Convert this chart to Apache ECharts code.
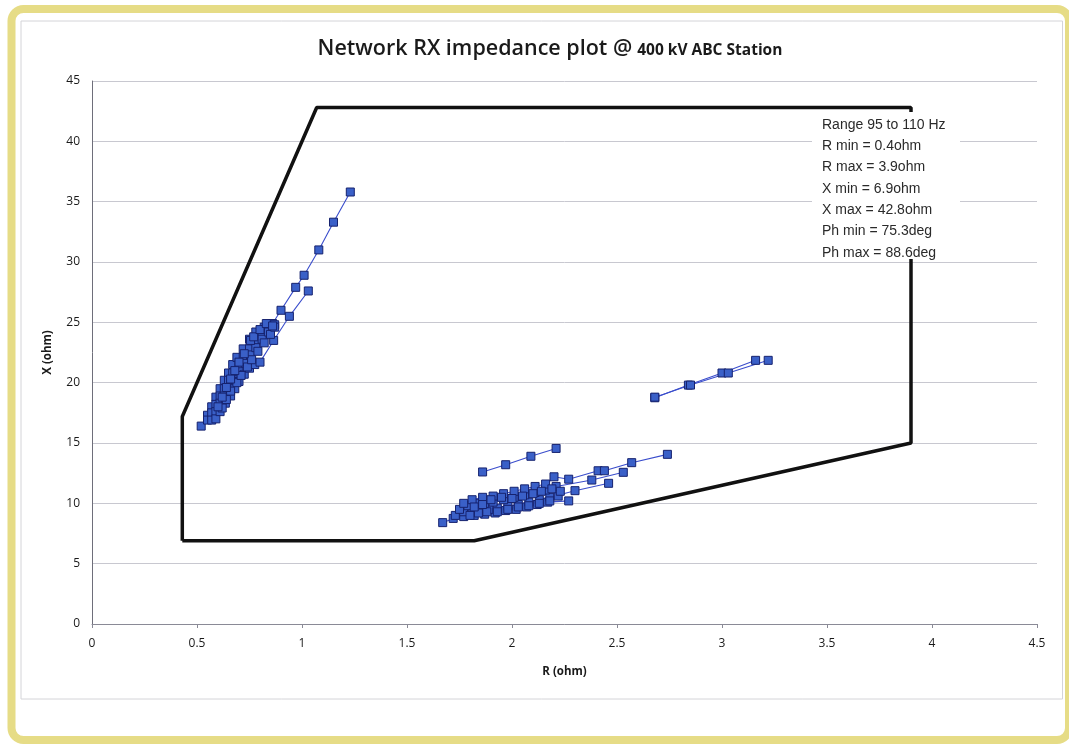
<!DOCTYPE html>
<html>
<head>
<meta charset="utf-8">
<script src="https://cdn.jsdelivr.net/npm/echarts@6/dist/echarts.min.js"></script>
<style>
  html, body { margin: 0; padding: 0; background: #ffffff; }
  #chart { width: 1069px; height: 745px; }
</style>
</head>
<body>
<div id="chart"></div>
<script>
// Impedance locus traces (R in ohm, X in ohm), one array per network case
const traceA = [[0.52,16.4],[0.55,17.3],[0.57,18.0],[0.59,18.8],[0.61,19.5],[0.63,20.2],[0.65,20.8],[0.67,21.5],[0.69,22.1],[0.72,22.8],[0.75,23.6],[0.78,24.2],[0.82,24.6],[0.86,24.9],[0.90,26.0],[0.97,27.9],[1.01,28.9],[1.08,31.0],[1.15,33.3],[1.23,35.8]];
const traceB = [[0.55,16.9],[0.57,17.5],[0.59,18.2],[0.61,18.9],[0.63,19.5],[0.65,20.2],[0.67,20.8],[0.70,21.5],[0.72,22.1],[0.75,22.8],[0.78,23.5],[0.81,24.1],[0.84,24.6]];
const traceC = [[0.57,16.9],[0.59,17.6],[0.61,18.3],[0.63,18.9],[0.655,19.6],[0.68,20.3],[0.70,20.9],[0.73,21.6],[0.755,22.3],[0.78,22.9],[0.81,23.6],[0.84,24.2],[0.87,24.8]];
const traceD = [[0.59,17.0],[0.61,17.6],[0.635,18.3],[0.66,18.9],[0.68,19.5],[0.70,20.1],[0.725,20.7],[0.75,21.2],[0.775,21.5],[0.80,21.7],[0.865,23.5],[0.94,25.5],[1.03,27.6]];
const traceE = [[0.62,17.9],[0.64,18.6],[0.66,19.3],[0.69,20.0],[0.71,20.6],[0.74,21.3],[0.76,21.9],[0.79,22.6],[0.82,23.3],[0.85,24.0],[0.87,24.6]];
const traceF = [[0.60,18.0],[0.62,18.8],[0.64,19.6],[0.66,20.3],[0.68,21.0],[0.70,21.7],[0.725,22.4],[0.755,23.5],[0.77,23.8],[0.80,24.4],[0.83,24.9],[0.86,24.7]];
const traceG = [[1.86,12.6],[1.97,13.2],[2.09,13.9],[2.21,14.55]];
const traceH = [[1.67,8.4],[1.72,8.75],[1.77,8.9],[1.82,9.0],[1.87,9.1],[1.92,9.2],[1.97,9.4],[2.02,9.5],[2.07,9.7],[2.12,9.9],[2.17,10.1],[2.27,10.2]];
const traceI = [[1.73,9.0],[1.77,9.3],[1.81,9.5],[1.85,9.6],[1.89,9.5],[1.93,9.6],[1.98,9.8],[2.03,9.9],[2.08,10.1],[2.13,10.3],[2.18,10.5],[2.30,11.05],[2.46,11.66]];
const traceJ = [[1.75,9.5],[1.79,9.8],[1.83,10.0],[1.87,10.0],[1.91,10.1],[1.96,10.3],[2.01,10.5],[2.06,10.7],[2.11,10.9],[2.16,11.1],[2.21,11.4],[2.38,11.93],[2.53,12.57]];
const traceK = [[1.77,10.0],[1.81,10.3],[1.86,10.5],[1.91,10.6],[1.96,10.8],[2.01,11.0],[2.06,11.2],[2.11,11.4],[2.16,11.6],[2.20,12.2],[2.27,12.0],[2.41,12.7],[2.44,12.7],[2.57,13.37],[2.74,14.06]];
const traceL = [[1.80,9.0],[1.84,9.2],[1.88,9.3],[1.93,9.3],[1.98,9.5],[2.03,9.7],[2.08,9.8],[2.13,10.0],[2.18,10.2],[2.22,10.6]];
const traceM = [[1.82,9.7],[1.86,9.9],[1.90,10.3],[1.95,10.5],[2.00,10.4],[2.05,10.6],[2.10,10.8],[2.14,11.0],[2.19,11.2],[2.23,11.0]];
const traceN = [[2.68,18.75],[2.84,19.8],[3.00,20.8],[3.16,21.85]];
const traceO = [[2.68,18.8],[2.85,19.8],[3.03,20.8],[3.22,21.85]];

// Permitted impedance region (closed polygon)
const regionR = [0.43, 1.82, 3.9, 3.9, 1.07, 0.43, 0.43];
const regionX = [6.9, 6.9, 15, 42.8, 42.8, 17.2, 6.9];

// Summary notes
const statsLines = [
  'Range 95 to 110 Hz',
  'R min = 0.4ohm',
  'R max = 3.9ohm',
  'X min = 6.9ohm',
  'X max = 42.8ohm',
  'Ph min = 75.3deg',
  'Ph max = 88.6deg'
];

const titleMain = 'Network RX impedance plot @';
const titleSub = '400 kV ABC Station';
const xAxisName = 'R (ohm)';
const yAxisName = 'X (ohm)';

const traces = [traceA, traceB, traceC, traceD, traceE, traceF, traceG, traceH, traceI,
                traceJ, traceK, traceL, traceM, traceN, traceO];

const chart = echarts.init(document.getElementById('chart'), null, { renderer: 'canvas' });

const traceSeries = traces.map(function (t) {
  return {
    type: 'line',
    data: t,
    symbol: 'rect',
    symbolSize: 8,
    showAllSymbol: true,
    lineStyle: { color: '#3a4dcc', width: 1.1 },
    itemStyle: { color: '#3a60c8', borderColor: '#16226e', borderWidth: 1 },
    emphasis: { disabled: true },
    z: 3
  };
});

const regionSeries = {
  type: 'line',
  data: regionR.map(function (r, i) { return [r, regionX[i]]; }),
  symbol: 'none',
  lineStyle: { color: '#111111', width: 3.5 },
  emphasis: { disabled: true },
  z: 2
};

// Note box: white panel behind the text lines
const noteGraphics = [{
  type: 'rect',
  shape: { x: 812, y: 112, width: 148, height: 147 },
  style: { fill: '#ffffff', stroke: 'none' },
  silent: true, z: 9
}].concat(statsLines.map(function (s, i) {
  return {
    type: 'text',
    left: 822,
    top: 118 + i * 21.3,
    style: { text: s, font: '14px "Liberation Sans", Arial, sans-serif', fill: '#2a2a2a' },
    silent: true, z: 10
  };
}));

chart.setOption({
  animation: false,
  backgroundColor: '#ffffff',
  title: {
    text: '{a|' + titleMain + '} {b|' + titleSub + '}',
    left: 545,
    textAlign: 'center',
    top: 33,
    textStyle: {
      rich: {
        a: { fontFamily: '"Open Sans", sans-serif', fontSize: 21.5, fontWeight: 600, color: '#1a1a1a' },
        b: { fontFamily: '"Open Sans", sans-serif', fontSize: 15.5, fontWeight: 700, color: '#1a1a1a', padding: [3, 0, 0, 0] }
      }
    }
  },
  grid: { left: 92, right: 32, top: 81, bottom: 121, containLabel: false },
  xAxis: {
    type: 'value',
    min: 0, max: 4.5, interval: 0.5,
    name: xAxisName,
    nameLocation: 'middle',
    nameGap: 42,
    nameTextStyle: { fontFamily: '"Open Sans", sans-serif', fontSize: 11.5, fontWeight: 700, color: '#1a1a1a' },
    axisLine: { show: true, lineStyle: { color: '#8a8a96', width: 1 } },
    axisTick: { show: true, inside: false, length: 4, lineStyle: { color: '#8a8a96' } },
    axisLabel: {
      fontFamily: '"Open Sans", sans-serif', fontSize: 12, color: '#1a1a1a', margin: 14,
      formatter: function (v) { return String(Math.round(v * 10) / 10); }
    },
    splitLine: { show: false }
  },
  yAxis: {
    type: 'value',
    min: 0, max: 45, interval: 5,
    name: yAxisName,
    nameLocation: 'middle',
    nameGap: 38,
    nameRotate: 90,
    nameTextStyle: { fontFamily: '"Open Sans", sans-serif', fontSize: 11.5, fontWeight: 700, color: '#1a1a1a' },
    axisLine: { show: true, lineStyle: { color: '#6e6e7a', width: 1 } },
    axisTick: { show: false },
    axisLabel: { fontFamily: '"Open Sans", sans-serif', fontSize: 12, color: '#1a1a1a', margin: 12 },
    splitLine: { show: true, lineStyle: { color: '#c8c8d0', width: 1 } }
  },
  graphic: [
    {
      type: 'rect',
      shape: { x: 21, y: 21, width: 1041.5, height: 678 },
      style: { fill: 'none', stroke: '#d4d4d8', lineWidth: 1 },
      silent: true, z: 0
    },
    {
      type: 'rect',
      shape: { x: 11.5, y: 9, width: 1057.5, height: 731, r: 12 },
      style: { fill: 'none', stroke: '#e6dc86', lineWidth: 8 },
      silent: true, z: 0
    }
  ].concat(noteGraphics),
  series: [regionSeries].concat(traceSeries)
});
</script>
</body>
</html>
